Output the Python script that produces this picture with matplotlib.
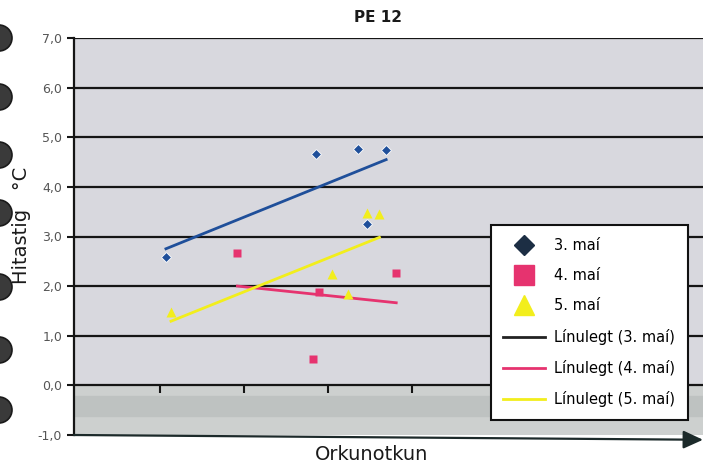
import numpy as np
import matplotlib
matplotlib.use("Agg")
import matplotlib.pyplot as plt
from matplotlib.lines import Line2D
from matplotlib.patches import Ellipse

# values (x in unlabelled axis units)
x_may3 = [1.07, 2.86, 3.35, 3.69, 3.46]
y_may3 = [2.58, 4.66, 4.76, 4.74, 3.25]
x_may4 = [1.92, 3.81, 2.89, 2.82]
y_may4 = [2.66, 2.26, 1.875, 0.54]
x_may5 = [1.13, 3.04, 3.24, 3.46, 3.61]
y_may5 = [1.47, 2.24, 1.85, 3.47, 3.45]

y_ticks = [-1, 0, 1, 2, 3, 4, 5, 6, 7]
y_labels = ["-1,0", "0,0", "1,0", "2,0", "3,0", "4,0", "5,0", "6,0", "7,0"]
series_names = ["3. maí", "4. maí", "5. maí"]

col_blue = "#1f4f9a"
col_pink = "#e6336f"
col_yellow = "#f2ee1c"

plt.rcParams["font.family"] = ["DejaVu Sans"]

fig = plt.figure(figsize=(7.03, 4.68), dpi=100)
ax = fig.add_axes([74 / 703, 1 - 435 / 468, 1 - 74 / 703, (435 - 38) / 468])
ax.set_facecolor("#d8d8de")

ax.set_xlim(-0.024, 7.46)
ax.set_ylim(-1, 7)

# shaded band below zero, as in the scan
ax.axhspan(-1, 0, color="#cdd0cf", zorder=0)
ax.axhspan(-0.62, -0.22, color="#bec2c1", zorder=0)

for v in range(1, 8):
    ax.axhline(v, color="#151515", lw=1.6, zorder=1)

# scatter points
ax.plot(x_may3, y_may3, "D", color=col_blue, ms=5, mec="white", mew=0.6, zorder=4)
ax.plot(x_may4, y_may4, "s", color=col_pink, ms=6, mec="none", zorder=4)
ax.plot(x_may5, y_may5, "^", color=col_yellow, ms=6.5, mec="none", zorder=4)

# linear trendlines (Línulegt)
for xs, ys, c in [(x_may3, y_may3, col_blue), (x_may4, y_may4, col_pink), (x_may5, y_may5, col_yellow)]:
    k, b = np.polyfit(xs, ys, 1)
    xx = np.array([min(xs), max(xs)])
    ax.plot(xx, k * xx + b, color=c, lw=2, zorder=3)

# x axis drawn on the zero line
ax.spines["bottom"].set_position(("data", 0))
ax.spines["bottom"].set_color("#151515")
ax.spines["bottom"].set_linewidth(1.6)
ax.spines["top"].set_visible(False)
ax.spines["right"].set_visible(False)
ax.spines["left"].set_linewidth(1.6)
ax.spines["left"].set_color("#151515")
ax.set_xticks([1, 2, 3, 4, 5, 6, 7])
ax.set_xticklabels([])
ax.tick_params(axis="x", direction="out", length=6, width=1.5, color="#151515")
ax.set_yticks(y_ticks)
ax.set_yticklabels(y_labels, fontsize=9, color="#555555")
ax.tick_params(axis="y", direction="out", length=5, width=1.5, color="#151515")

# bottom line with arrow head
ax.annotate("", xy=(1.0, -0.012), xytext=(0, 0), xycoords="axes fraction",
            arrowprops=dict(arrowstyle="-|>,head_length=1.2,head_width=0.55",
                            color="#1c2a2a", lw=1.6, shrinkA=0, shrinkB=0),
            annotation_clip=False)

fig.text(378 / 703, 1 - 18 / 468, "PE 12", ha="center", va="center",
         fontsize=11, fontweight="bold", color="#1a1a1a")
fig.text(22 / 703, 1 - 225 / 468, "Hitastig   °C", rotation=90, ha="center",
         va="center", fontsize=14, color="#1a1a1a")
fig.text(372 / 703, 1 - 455 / 468, "Orkunotkun", ha="center", va="center",
         fontsize=14, color="#1a1a1a")

handles = [
    Line2D([], [], ls="none", marker="D", color="#1c2e44", ms=10),
    Line2D([], [], ls="none", marker="s", color=col_pink, ms=14),
    Line2D([], [], ls="none", marker="^", color=col_yellow, ms=15),
    Line2D([], [], color="#222222", lw=2),
    Line2D([], [], color=col_pink, lw=2),
    Line2D([], [], color=col_yellow, lw=2),
]
labels = series_names + ["Línulegt (" + s + ")" for s in series_names]
leg = ax.legend(handles, labels, loc="lower right", bbox_to_anchor=(0.987, 0.02),
                fontsize=10.5, frameon=True, fancybox=False, handlelength=2.9,
                labelspacing=1.05, borderpad=0.85, handletextpad=0.6)
leg.get_frame().set_edgecolor("#111111")
leg.get_frame().set_linewidth(1.5)
leg.get_frame().set_facecolor("white")
leg.get_frame().set_alpha(1)
leg.set_zorder(6)

# binder holes at the left margin of the scanned page
for yc in [38, 97, 155, 213, 287, 350, 410]:
    fig.patches.append(Ellipse((-1 / 703, 1 - yc / 468), 26 / 703, 26 / 468,
                               transform=fig.transFigure, facecolor="#3a3a3a",
                               edgecolor="#1a1a1a", lw=1.2))

fig.savefig("out.png", dpi=100)
